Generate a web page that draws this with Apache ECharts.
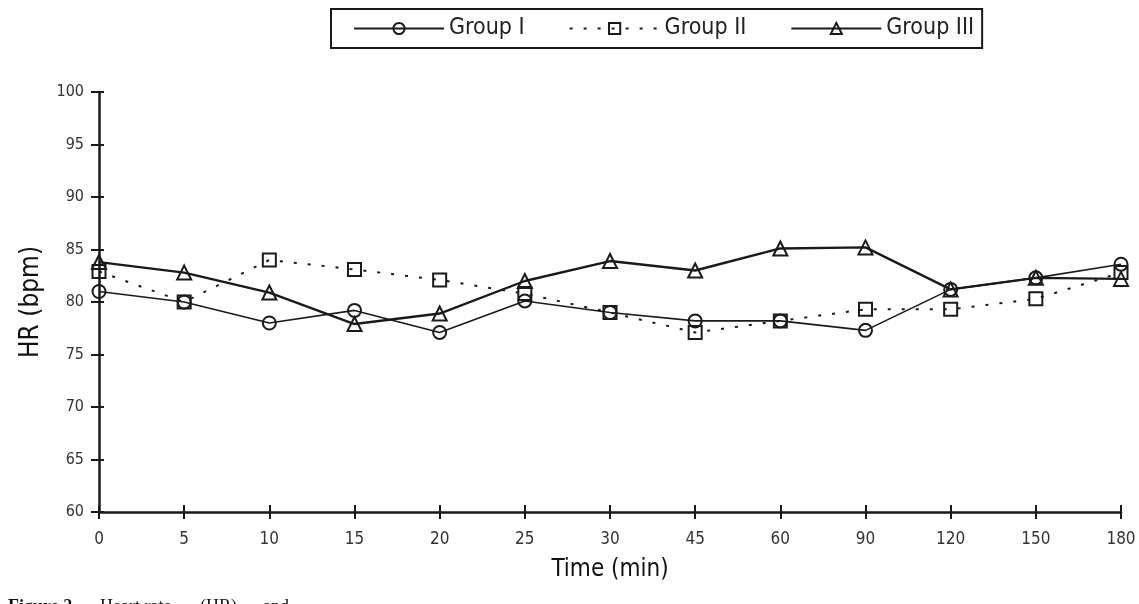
<!DOCTYPE html>
<html>
<head>
<meta charset="utf-8">
<script src="https://cdn.jsdelivr.net/npm/echarts@6/dist/echarts.min.js"></script>
<style>
  html, body { margin: 0; padding: 0; background: #fff; }
  #vis { width: 1139px; height: 604px; }
</style>
</head>
<body>
<div id="vis"></div>
<script>
const times = ['0', '5', '10', '15', '20', '25', '30', '45', '60', '90', '120', '150', '180']
const groupI = [81, 80, 78, 79.2, 77.1, 80.1, 79, 78.2, 78.2, 77.3, 81.2, 82.3, 83.6]
const groupII = [82.9, 80, 84, 83.1, 82.1, 80.8, 79, 77.1, 78.2, 79.3, 79.3, 80.3, 82.8]
const groupIII = [83.8, 82.8, 80.9, 77.9, 78.9, 82, 83.9, 83, 85.1, 85.2, 81.2, 82.3, 82.2]

const narrow = "'Liberation Sans Narrow', 'DejaVu Sans Condensed', sans-serif"
const serif = "'Liberation Serif', serif"
const ink = '#1a1a1a'

const chart = echarts.init(document.getElementById('vis'), null, { renderer: 'canvas' })

const mkSeries = (name, data, symbol, lineStyle) => ({
  name,
  type: 'line',
  data,
  symbol,
  symbolSize: symbol === 'triangle' ? 14 : 13,
  showSymbol: true,
  lineStyle: Object.assign({ color: ink }, lineStyle),
  itemStyle: { color: 'rgba(255,255,255,0)', borderColor: ink, borderWidth: 2 },
  emphasis: { disabled: true },
  animation: false
})

const options = {
  backgroundColor: '#fff',
  grid: { left: 99, right: 18, top: 92, bottom: 92 },
  legend: {
    left: 331,
    top: 9,
    width: 700,
    padding: [8, 8, 8, 22],
    borderColor: ink,
    borderWidth: 2,
    itemWidth: 90,
    itemHeight: 14,
    itemGap: 44,
    textStyle: { fontFamily: narrow, fontSize: 23, color: '#222' },
    data: ['Group I', 'Group II', 'Group III']
  },
  xAxis: [
    {
      type: 'category',
      data: times,
      boundaryGap: false,
      name: 'Time (min)',
      nameLocation: 'middle',
      nameGap: 46,
      nameTextStyle: { fontFamily: narrow, fontSize: 24, color: '#111' },
      axisLine: { lineStyle: { color: ink, width: 2.5 } },
      axisTick: { length: 7, lineStyle: { color: ink, width: 2 } },
      axisLabel: { fontFamily: narrow, fontSize: 17, color: '#333', margin: 19 },
      splitLine: { show: false }
    },
    {
      type: 'category',
      data: times,
      boundaryGap: false,
      position: 'bottom',
      axisLine: { show: false },
      axisTick: { inside: true, length: 7, lineStyle: { color: ink, width: 2 } },
      axisLabel: { show: false },
      splitLine: { show: false }
    }
  ],
  yAxis: [
    {
      type: 'value',
      min: 60,
      max: 100,
      interval: 5,
      name: 'HR (bpm)',
      nameLocation: 'middle',
      nameGap: 55,
      nameTextStyle: { fontFamily: narrow, fontSize: 26, color: '#111' },
      axisLine: { show: true, lineStyle: { color: ink, width: 2.5 } },
      axisTick: { show: true, length: 8, lineStyle: { color: ink, width: 2 } },
      axisLabel: { fontFamily: narrow, fontSize: 16, color: '#333', margin: 15 },
      splitLine: { show: false }
    },
    {
      type: 'value',
      min: 60,
      max: 100,
      interval: 5,
      position: 'left',
      axisLine: { show: false },
      axisTick: { show: true, inside: true, length: 5, lineStyle: { color: ink, width: 2 } },
      axisLabel: { show: false },
      splitLine: { show: false }
    }
  ],
  graphic: [
    { type: 'text', left: 8, top: 598, style: { text: 'Figure 2.', font: 'bold 18px ' + serif, fill: '#111' } },
    { type: 'text', left: 100, top: 598, style: { text: 'Heart rate', font: '18px ' + serif, fill: '#111' } },
    { type: 'text', left: 200, top: 598, style: { text: '(HR)', font: '18px ' + serif, fill: '#111' } },
    { type: 'text', left: 263, top: 598, style: { text: 'and', font: '18px ' + serif, fill: '#111' } }
  ],
  series: [
    mkSeries('Group I', groupI, 'circle', { width: 1.6 }),
    mkSeries('Group II', groupII, 'rect', { width: 2, type: [3, 11] }),
    mkSeries('Group III', groupIII, 'triangle', { width: 2.4 })
  ]
}

chart.setOption(options)
window.addEventListener('resize', () => chart.resize())
</script>
</body>
</html>
